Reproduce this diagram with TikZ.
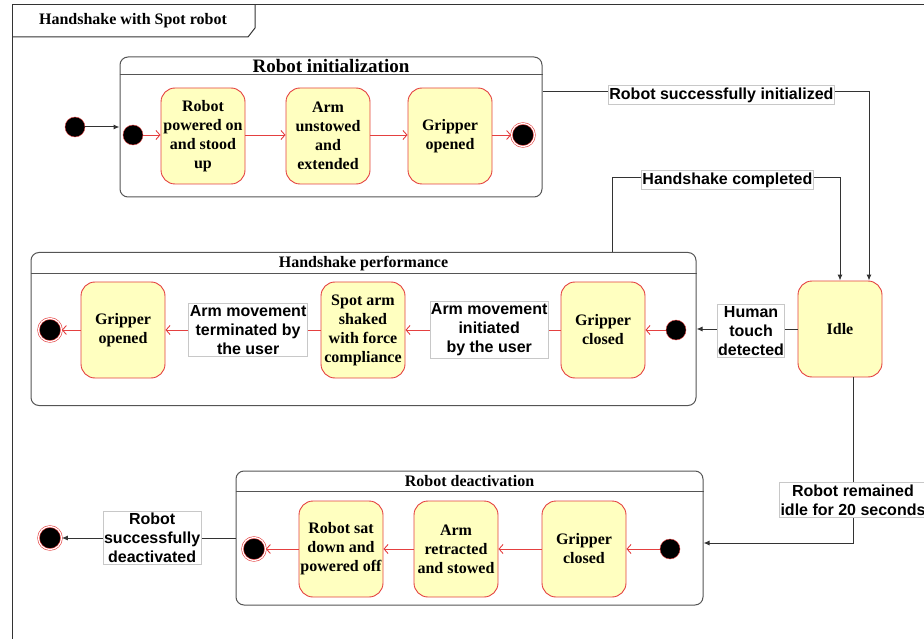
\documentclass[tikz,border=0pt]{standalone}
\usepackage{fontspec}
\setmainfont{Liberation Serif}
\setsansfont{Liberation Sans}
\usetikzlibrary{arrows.meta}
\definecolor{stateRed}{RGB}{228,64,64}
\definecolor{stateFill}{RGB}{255,255,192}
\definecolor{boxGray}{RGB}{85,85,85}
\definecolor{tagGray}{RGB}{200,200,200}

\begin{document}
\begin{tikzpicture}[x=1pt,y=-1pt,
  statebox/.style={draw=stateRed,fill=stateFill,line width=0.9pt,rounded corners=14pt,minimum width=84pt,minimum height=96pt,align=center,inner sep=1pt,font=\bfseries\fontsize{16}{19}\selectfont},
  startdot/.style={circle,draw=stateRed,fill=black,minimum size=20pt,inner sep=0pt},
  enddot/.style={circle,draw=stateRed,fill=black,double=white,double distance=1.2pt,line width=0.6pt,minimum size=23pt,inner sep=0pt},
  region/.style={draw=boxGray,line width=1pt,rounded corners=8pt,inner sep=0pt},
  regionline/.style={draw=boxGray,line width=1pt},
  boxtitle/.style={font=\bfseries\fontsize{16}{19}\selectfont},
  trigger/.style={draw=tagGray,fill=white,align=center,inner xsep=1pt,inner ysep=2pt,font=\sffamily\bfseries\fontsize{16}{19}\selectfont},
  redflow/.style={draw=stateRed,line width=0.9pt,-{Straight Barb[length=4pt,width=9pt]}},
  flow/.style={draw=black!80,line width=1pt,-{Latex[length=6pt,width=5pt]}}]
  \useasboundingbox (0,0) rectangle (924,639);
  \draw[black!80,line width=1pt] (12,639) -- (12,5) -- (924,5);
  \draw[black!80,line width=1pt] (12,37) -- (248,37) -- (255,28) -- (255,5);
  \node[boxtitle] (frameTitle) at (133,21) {Handshake with Spot robot};

  \node[region,minimum width=422pt,minimum height=140pt] (init) at (331,127) {};
  \draw[regionline] ([yshift=-18pt]init.north west) -- ([yshift=-18pt]init.north east);
  \node[boxtitle,font=\bfseries\fontsize{19}{22}\selectfont] (initTitle) at ([yshift=-10pt]init.north) {Robot initialization};
  \node[startdot] (start) at (75,127) {};
  \node[startdot] (i0) at (133,135) {};
  \node[statebox] (s1) at (203,136) {Robot\\powered on\\and stood\\up};
  \node[statebox] (s2) at (328,136) {Arm\\unstowed\\and\\extended};
  \node[statebox] (s3) at (450,136) {Gripper\\opened};
  \node[enddot] (f0) at (523,135) {};
  \draw[flow] (start) -- (init);
  \draw[redflow] (i0) -- (s1.west |- i0);
  \draw[redflow] (s1.east |- i0) -- (s2.west |- i0);
  \draw[redflow] (s2.east |- i0) -- (s3.west |- i0);
  \draw[redflow] (s3.east |- i0) -- (f0);

  \node[statebox] (idle) at (840,329) {Idle};
  \coordinate (idleIn) at ([xshift=29pt]idle.north);
  \draw[flow] ([yshift=35pt]init.east) -| (idleIn) node[trigger,pos=0.274,yshift=-3pt] (lInit) {Robot successfully initialized};

  \node[region,minimum width=665pt,minimum height=153pt] (hs) at (363.5,329) {};
  \draw[regionline] ([yshift=-22pt]hs.north west) -- ([yshift=-22pt]hs.north east);
  \node[boxtitle] (hsTitle) at ([yshift=-12pt]hs.north) {Handshake performance};
  \node[startdot] (i1) at (676,330) {};
  \node[statebox] (gc) at (603,330) {Gripper\\closed};
  \node[statebox] (spot) at (363,330) {Spot arm\\shaked\\with force\\compliance};
  \node[statebox] (go) at (123,330) {Gripper\\opened};
  \node[enddot] (f1) at (50,330) {};
  \draw[redflow] (i1) -- (gc);
  \draw[redflow] (gc) -- (spot) node[trigger,pos=0.46] (lStart) {Arm movement\\initiated\\by the user};
  \draw[redflow] (spot) -- (go) node[trigger,pos=0.467] (lStop) {Arm movement\\terminated by\\the user};
  \draw[redflow] (go) -- (f1);
  \draw[flow] (idle) -- (hs) node[trigger,pos=0.46,yshift=-2pt] (lTouch) {Human\\touch\\detected};
  \draw[flow] ([xshift=249pt]hs.north) -- ++(0,-74) -| (idle) node[trigger,pos=0.2525,yshift=-2pt] (lDone) {Handshake completed};

  \node[region,minimum width=467pt,minimum height=134pt] (deact) at (469.5,538) {};
  \draw[regionline] ([yshift=-21pt]deact.north west) -- ([yshift=-21pt]deact.north east);
  \node[boxtitle] (deTitle) at ([yshift=-11pt]deact.north) {Robot deactivation};
  \node[startdot] (i2) at (670,549) {};
  \node[statebox] (gc2) at (584,549) {Gripper\\closed};
  \node[statebox] (ar) at (456,549) {Arm\\retracted\\and stowed};
  \node[statebox] (rs) at (341,549) {Robot sat\\down and\\powered off};
  \node[enddot] (f2) at (254,549) {};
  \node[enddot] (f3) at (50,538) {};
  \draw[redflow] (i2) -- (gc2);
  \draw[redflow] (gc2) -- (ar);
  \draw[redflow] (ar) -- (rs);
  \draw[redflow] (rs) -- (f2);
  \draw[flow] ([xshift=13pt]idle.south) |- ([yshift=-5pt]deact.east) node[trigger,pos=0.37] (lIdle) {Robot remained\\idle for 20 seconds};
  \draw[flow] (deact) -- (f3) node[trigger,pos=0.48] (lEnd) {Robot\\successfully\\deactivated};
\end{tikzpicture}
\end{document}
